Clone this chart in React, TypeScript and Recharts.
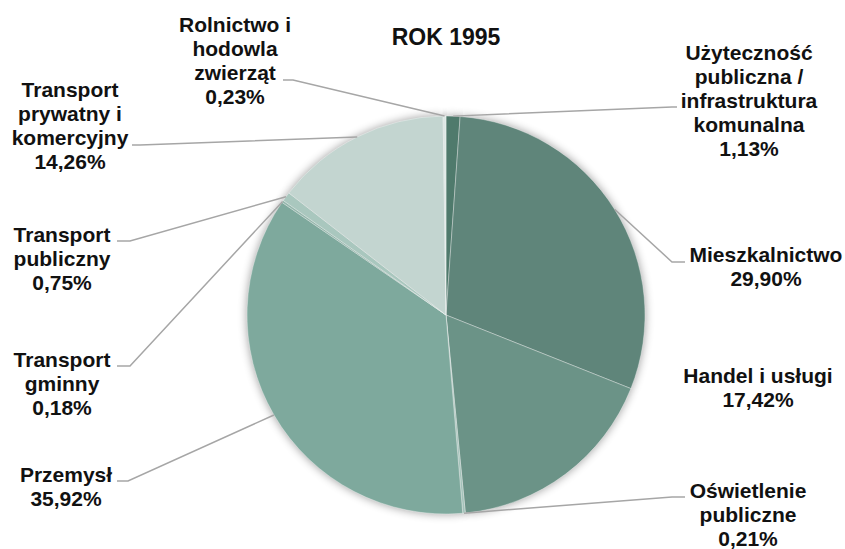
import React from "react";
import { PieChart, Pie, Cell } from "recharts";

// slices in clockwise order, starting at 12 o'clock
const categories = [
  "Użyteczność publiczna / infrastruktura komunalna",
  "Mieszkalnictwo",
  "Handel i usługi",
  "Oświetlenie publiczne",
  "Przemysł",
  "Transport gminny",
  "Transport publiczny",
  "Transport prywatny i komercyjny",
  "Rolnictwo i hodowla zwierząt",
];
const shares = [1.13, 29.9, 17.42, 0.21, 35.92, 0.18, 0.75, 14.26, 0.23];
const labelRows = [
  ["Użyteczność", "publiczna /", "infrastruktura", "komunalna"],
  ["Mieszkalnictwo"],
  ["Handel i usługi"],
  ["Oświetlenie", "publiczne"],
  ["Przemysł"],
  ["Transport", "gminny"],
  ["Transport", "publiczny"],
  ["Transport", "prywatny i", "komercyjny"],
  ["Rolnictwo i", "hodowla", "zwierząt"],
];

const colors = [
  "#4f7a6c",
  "#5f857a",
  "#6b9387",
  "#a3c2b9",
  "#7ea99d",
  "#93b7ac",
  "#a9c7be",
  "#c3d5d0",
  "#dde8e5",
];

// where each label sits and where its leader line bends
const labelLayout = [
  { x: 749, y: 60, line: true, ex: 672, ey: 107, lx: 677 },
  { x: 766, y: 262, line: true, ex: 672, ey: 262, lx: 685 },
  { x: 758, y: 383, line: false, ex: 0, ey: 0, lx: 0 },
  { x: 748, y: 498, line: true, ex: 672, ey: 497, lx: 685 },
  { x: 66, y: 482, line: true, ex: 128, ey: 481, lx: 117 },
  { x: 62, y: 367, line: true, ex: 130, ey: 366, lx: 117 },
  { x: 62, y: 242, line: true, ex: 130, ey: 241, lx: 117 },
  { x: 70, y: 97, line: true, ex: 140, ey: 145, lx: 132 },
  { x: 235, y: 32, line: true, ex: 293, ey: 80, lx: 283 },
];

const data = categories.map((name, i) => ({ name, value: shares[i] }));

const RAD = Math.PI / 180;
const FONT = "'Liberation Sans', Arial, sans-serif";

const renderLabel = (props: any) => {
  const { cx, cy, midAngle, outerRadius, index, value } = props;
  const pos = labelLayout[index];
  const sx = cx + outerRadius * Math.cos(-midAngle * RAD);
  const sy = cy + outerRadius * Math.sin(-midAngle * RAD);
  const rows = [...labelRows[index], value.toFixed(2).replace(".", ",") + "%"];
  return (
    <g key={"lbl-" + index}>
      {pos.line && (
        <polyline
          points={`${sx},${sy} ${pos.ex},${pos.ey} ${pos.lx},${pos.ey}`}
          fill="none"
          stroke="#a6a6a6"
          strokeWidth={1.5}
        />
      )}
      <text
        x={pos.x}
        y={pos.y}
        textAnchor="middle"
        fontFamily={FONT}
        fontWeight="bold"
        fontSize={21}
        fill="#111"
      >
        {rows.map((r, i) => (
          <tspan key={i} x={pos.x} y={pos.y + i * 24}>
            {r}
          </tspan>
        ))}
      </text>
    </g>
  );
};

export default function App() {
  return (
    <div style={{ position: "absolute", left: 0, top: 0, width: 845, height: 549, background: "#fff" }}>
      <div
        style={{
          position: "absolute",
          left: 0,
          width: 845,
          top: 24,
          textAlign: "center",
          fontFamily: FONT,
          fontWeight: "bold",
          fontSize: 23,
          color: "#111",
          lineHeight: "27px",
          paddingLeft: 47,
          boxSizing: "border-box",
        }}
      >
        ROK 1995
      </div>
      <PieChart width={845} height={549} margin={{ top: 0, right: 0, bottom: 0, left: 0 }}>
        <defs>
          <filter id="pieShadow" x="-20%" y="-20%" width="140%" height="140%">
            <feGaussianBlur in="SourceAlpha" stdDeviation="5" />
            <feComponentTransfer>
              <feFuncA type="linear" slope="0.4" />
            </feComponentTransfer>
          </filter>
        </defs>
        {/* blurred copy underneath only to cast the soft shadow */}
        <Pie
          data={data}
          dataKey="value"
          cx={446}
          cy={315}
          outerRadius={199}
          startAngle={90}
          endAngle={-270}
          stroke="none"
          isAnimationActive={false}
        >
          {data.map((d) => (
            <Cell key={d.name} fill="#000" filter="url(#pieShadow)" />
          ))}
        </Pie>
        <Pie
          data={data}
          dataKey="value"
          nameKey="name"
          cx={446}
          cy={315}
          outerRadius={199}
          startAngle={90}
          endAngle={-270}
          stroke="rgba(255,255,255,0.35)"
          strokeWidth={1}
          label={renderLabel}
          labelLine={false}
          isAnimationActive={false}
        >
          {data.map((d, i) => (
            <Cell key={d.name} fill={colors[i]} />
          ))}
        </Pie>
      </PieChart>
    </div>
  );
}
